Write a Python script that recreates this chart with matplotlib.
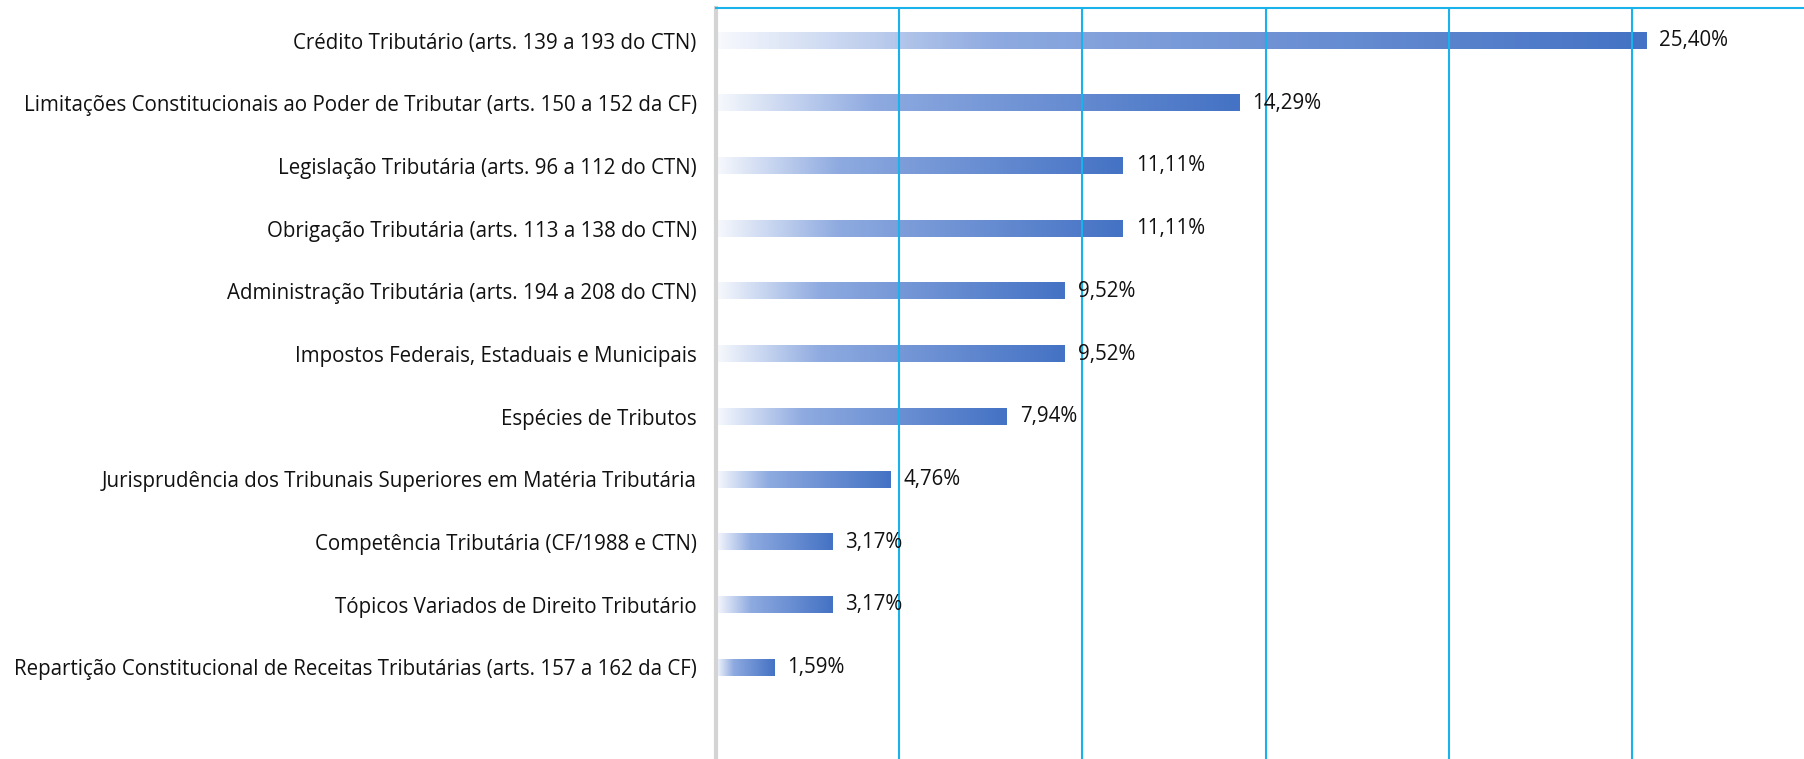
import numpy as np
import matplotlib.pyplot as plt
from matplotlib.colors import LinearSegmentedColormap

categories = [
    'Crédito Tributário (arts. 139 a 193 do CTN)',
    'Limitações Constitucionais ao Poder de Tributar (arts. 150 a 152 da CF)',
    'Legislação Tributária (arts. 96 a 112 do CTN)',
    'Obrigação Tributária (arts. 113 a 138 do CTN)',
    'Administração Tributária (arts. 194 a 208 do CTN)',
    'Impostos Federais, Estaduais e Municipais',
    'Espécies de Tributos',
    'Jurisprudência dos Tribunais Superiores em Matéria Tributária',
    'Competência Tributária (CF/1988 e CTN)',
    'Tópicos Variados de Direito Tributário',
    'Repartição Constitucional de Receitas Tributárias (arts. 157 a 162 da CF)',
]
values = [25.40, 14.29, 11.11, 11.11, 9.52, 9.52, 7.94, 4.76, 3.17, 3.17, 1.59]
labels = ['25,40%', '14,29%', '11,11%', '11,11%', '9,52%', '9,52%', '7,94%',
          '4,76%', '3,17%', '3,17%', '1,59%']

plt.rcParams['font.family'] = ['Open Sans', 'DejaVu Sans']

cmap = LinearSegmentedColormap.from_list(
    'fade', [(0, '#f7f9fd'), (0.3, '#8eaae0'), (1, '#4472c4')])
grad = np.linspace(0, 1, 256).reshape(1, -1)

fig = plt.figure(figsize=(18.04, 7.59), dpi=100)
ax = fig.add_axes([0.397, 0, 0.603, 0.9895])

y = np.arange(len(categories))
h = 0.26
bars = ax.barh(y + 0.02, values, height=h, color='none')
for b in bars:
    x0, y0 = b.get_x(), b.get_y()
    ax.imshow(grad, cmap=cmap, aspect='auto', interpolation='bicubic',
              extent=(x0, x0 + b.get_width(), y0 + b.get_height(), y0), zorder=2)

for yi, v, t in zip(y, values, labels):
    ax.text(v + 0.35, yi + 0.02, t, va='center', ha='left', fontsize=14.8, color='#111111')

ax.set_xlim(0, 29.7)
ax.set_ylim(len(categories) - 1 + 1.48, -0.5)
ax.set_yticks(y + 0.02)
ax.set_yticklabels(categories, fontsize=14.8, color='#111111')
ax.tick_params(axis='y', length=0, pad=14)
ax.set_xticks([5, 10, 15, 20, 25])
ax.tick_params(axis='x', length=0, labelbottom=False)
ax.grid(axis='x', color='#1ab2ea', linewidth=1.5, zorder=3)
ax.set_axisbelow(False)

for s in ['right', 'bottom']:
    ax.spines[s].set_visible(False)
ax.spines['top'].set_color('#1ab2ea')
ax.spines['top'].set_linewidth(1.5)
ax.spines['left'].set_color('#d4d4d4')
ax.spines['left'].set_linewidth(3)

fig.savefig('out.png', dpi=100)
